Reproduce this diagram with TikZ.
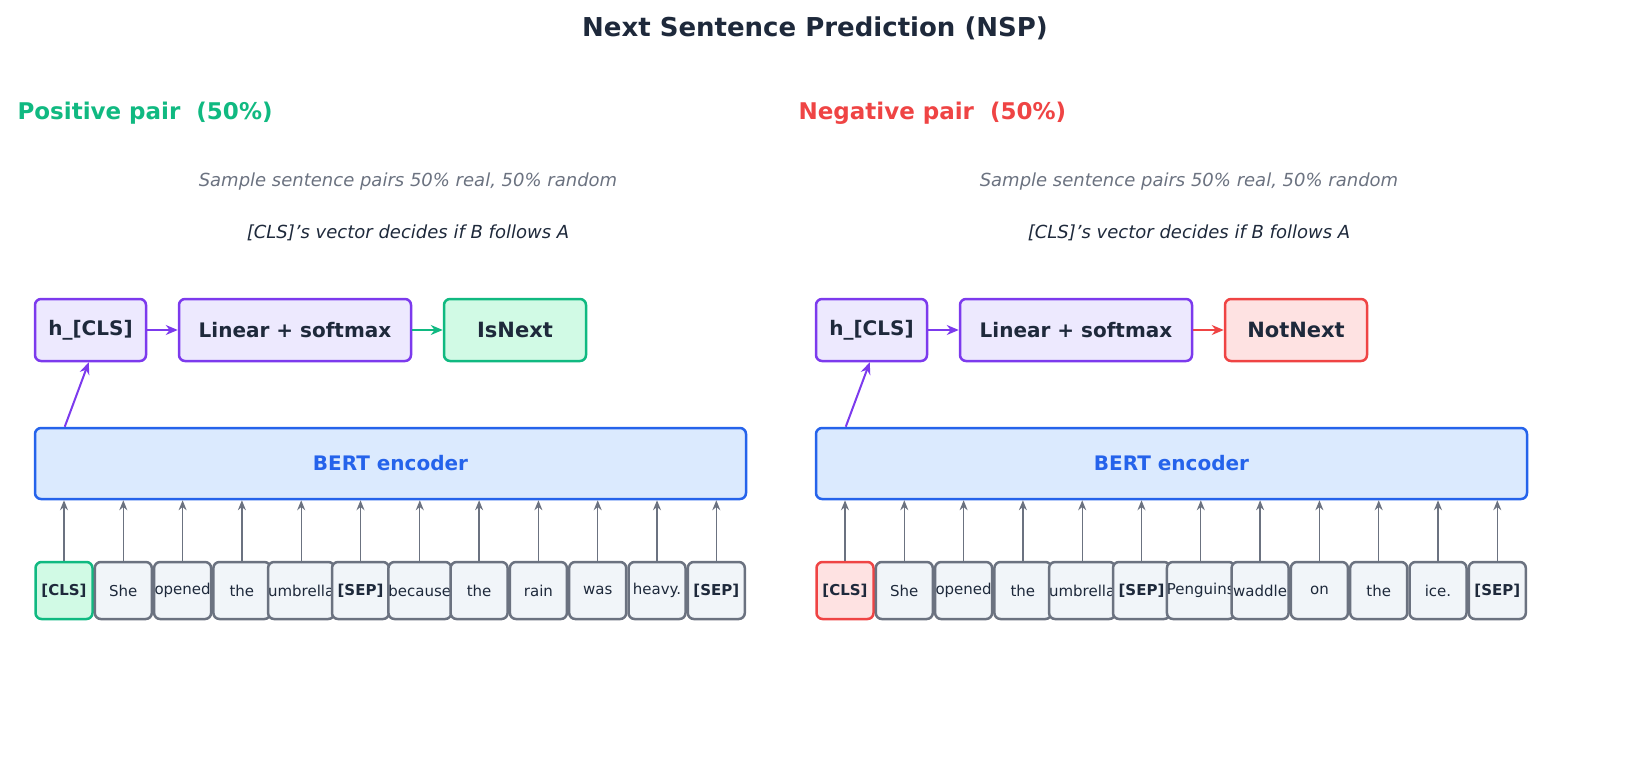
\documentclass[tikz,border=0pt]{standalone}
\usepackage{fontspec}
\setmainfont{DejaVu Sans}
\usetikzlibrary{positioning,calc,arrows.meta}
\definecolor{mypurple}{HTML}{7C3AED}
\definecolor{mylilac}{HTML}{EDE9FE}
\definecolor{mygreen}{HTML}{10B981}
\definecolor{mymint}{HTML}{D1FAE5}
\definecolor{myred}{HTML}{EF4444}
\definecolor{mypink}{HTML}{FEE2E2}
\definecolor{myblue}{HTML}{2563EB}
\definecolor{mysky}{HTML}{DBEAFE}
\definecolor{mygray}{HTML}{6B7280}
\definecolor{mytok}{HTML}{F1F5F9}
\definecolor{mydark}{HTML}{1E293B}
\tikzset{
  headbox/.style={draw=mypurple, fill=mylilac, line width=2.5pt, rounded corners=6pt, minimum height=62pt, font=\fontsize{20}{24}\selectfont\bfseries, text=mydark},
  encbox/.style={draw=myblue, fill=mysky, line width=2.5pt, rounded corners=6pt, minimum height=71pt, minimum width=711pt, font=\fontsize{20}{24}\selectfont\bfseries, text=myblue},
  tokbox/.style={draw=mygray, fill=mytok, line width=2.5pt, rounded corners=6pt, minimum height=57pt, minimum width=57pt, inner sep=0pt, font=\fontsize{15}{18}\selectfont, text=mydark},
  tokarrow/.style={-{Stealth[length=10pt,width=8pt]}, mygray, line width=1.3pt},
  flowarrow/.style={-{Stealth[length=12pt,width=10pt]}, line width=2.5pt}
}
\begin{document}
\begin{tikzpicture}[x=1pt,y=-1pt]
\useasboundingbox (0,0) rectangle (1630,770);
\node[font=\fontsize{26}{30}\selectfont\bfseries, text=mydark] (title) at (815,28) {Next Sentence Prediction (NSP)};
\foreach \side/\ox/\col/\bg/\head/\ans/\wordlist in {
  pos/0/mygreen/mymint/Positive/IsNext/{She,opened,the,umbrella,\textbf{[SEP]},because,the,rain,was,heavy.},
  neg/781/myred/mypink/Negative/NotNext/{She,opened,the,umbrella,\textbf{[SEP]},Penguins,waddle,on,the,ice.}} {
  \node[anchor=west, font=\fontsize{23}{28}\selectfont\bfseries, text=\col] (\side-head) at (14+\ox,113) {\head\ pair \ (50\%)};
  \node[font=\fontsize{18}{22}\selectfont\itshape, text=mygray] (\side-sub) at (408+\ox,182) {Sample sentence pairs 50\% real, 50\% random};
  \node[font=\fontsize{18}{22}\selectfont\itshape, text=mydark] (\side-note) at (408+\ox,233) {[CLS]'s vector decides if B follows A};
  % head row
  \node[headbox, minimum width=111pt] (\side-cls) at (90.5+\ox,330) {h\_[CLS]};
  \node[headbox, minimum width=232pt] (\side-lin) at (295+\ox,330) {Linear + softmax};
  \node[headbox, minimum width=142pt, draw=\col, fill=\bg, font=\fontsize{21}{25}\selectfont\bfseries] (\side-ans) at (515+\ox,330) {\ans};
  \draw[flowarrow, mypurple] (\side-cls) -- (\side-lin);
  \draw[flowarrow, \col] (\side-lin) -- (\side-ans);
  % encoder
  \node[encbox] (\side-enc) at (390.5+\ox,463.5) {BERT encoder};
  \draw[flowarrow, mypurple, line width=2pt] ($(\side-enc.north west)+(31,0)$) -- ($(\side-cls.south west)+(55,0)$);
  % tokens
  \node[tokbox, draw=\col, fill=\bg, font=\fontsize{15}{18}\selectfont\bfseries] (\side-t0) at (64+\ox,590.5) {[CLS]};
  \draw[tokarrow] (\side-t0) -- (\side-t0 |- \side-enc.south);
  \foreach \w [count=\i] in \wordlist {
    \node[tokbox] (\side-t\i) at (64+\ox+59.3*\i,590.5) {\w};
    \draw[tokarrow] (\side-t\i) -- (\side-t\i |- \side-enc.south);
  }
  \node[tokbox, font=\fontsize{15}{18}\selectfont\bfseries] (\side-t11) at (64+\ox+59.3*11,590.5) {[SEP]};
  \draw[tokarrow] (\side-t11) -- (\side-t11 |- \side-enc.south);
}
\end{tikzpicture}
\end{document}
